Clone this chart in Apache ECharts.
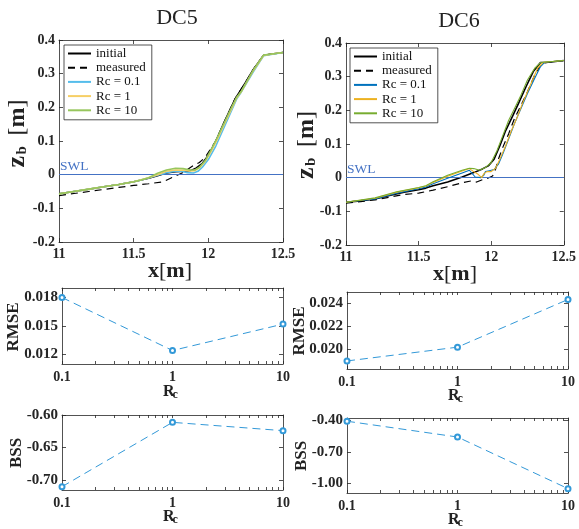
<!DOCTYPE html>
<html><head><meta charset="utf-8">
<script src="https://cdn.jsdelivr.net/npm/echarts@6/dist/echarts.min.js"></script>
<style>html,body{margin:0;padding:0;background:#fff}#c{width:579px;height:529px}</style>
</head><body><div id="c"></div>
<script>
// ---------------- data ----------------
const rcValues = [0.1, 1, 10];
const rmseDC5 = [0.0180, 0.01242, 0.0152];
const rmseDC6 = [0.0190, 0.0202, 0.02435];
const bssDC5 = [-0.7103, -0.6113, -0.6241];
const bssDC6 = [-0.406, -0.558, -1.055];
const rcTicks = [0.1, 1, 10];
const rcMinorTicks = [0.1,0.2,0.3,0.4,0.5,0.6,0.7,0.8,0.9,1,2,3,4,5,6,7,8,9,10];
const rmseDC5Ticks = [0.012, 0.015, 0.018];
const rmseDC6Ticks = [0.020, 0.022, 0.024];
const bssDC5Ticks = [-0.70, -0.65, -0.60];
const bssDC6Ticks = [-1.00, -0.70, -0.40];
const legendNames = ['initial', 'measured', 'Rc = 0.1', 'Rc = 1', 'Rc = 10'];

const dc5Initial = [[11.00,-0.057],[11.10,-0.050],[11.20,-0.043],[11.30,-0.036],[11.40,-0.029],[11.50,-0.021],[11.60,-0.011],[11.66,-0.003],[11.72,0.005],[11.78,0.009],[11.84,0.010],[11.88,0.012],[11.92,0.020],[11.96,0.034],[12.00,0.058],[12.05,0.100],[12.10,0.150],[12.15,0.198],[12.18,0.226],[12.20,0.240],[12.25,0.275],[12.30,0.312],[12.37,0.355],[12.45,0.360],[12.50,0.363]];
const dc5Measured = [[11.00,-0.062],[11.10,-0.056],[11.20,-0.050],[11.30,-0.044],[11.40,-0.038],[11.50,-0.032],[11.60,-0.027],[11.70,-0.021],[11.74,-0.012],[11.78,-0.004],[11.82,0.004],[11.86,0.015],[11.90,0.027],[11.94,0.036],[11.98,0.052],[12.02,0.080],[12.05,0.100],[12.10,0.150],[12.15,0.198],[12.18,0.226],[12.20,0.240],[12.25,0.275],[12.30,0.312],[12.37,0.355],[12.45,0.360],[12.50,0.363]];
const dc5Rc01 = [[11.00,-0.057],[11.10,-0.050],[11.20,-0.043],[11.30,-0.036],[11.40,-0.029],[11.50,-0.021],[11.60,-0.010],[11.66,-0.002],[11.72,0.006],[11.78,0.010],[11.82,0.010],[11.86,0.006],[11.90,0.005],[11.93,0.010],[11.96,0.022],[12.00,0.045],[12.05,0.085],[12.10,0.135],[12.15,0.185],[12.19,0.225],[12.22,0.245],[12.30,0.305],[12.37,0.353],[12.45,0.359],[12.50,0.363]];
const dc5Rc1 = [[11.00,-0.057],[11.10,-0.050],[11.20,-0.043],[11.30,-0.036],[11.40,-0.029],[11.50,-0.021],[11.60,-0.009],[11.66,0.000],[11.72,0.010],[11.78,0.014],[11.84,0.013],[11.88,0.011],[11.91,0.012],[11.94,0.020],[11.98,0.040],[12.02,0.070],[12.06,0.105],[12.10,0.143],[12.15,0.190],[12.19,0.228],[12.22,0.246],[12.30,0.308],[12.37,0.354],[12.45,0.360],[12.50,0.363]];
const dc5Rc10 = [[11.00,-0.057],[11.10,-0.050],[11.20,-0.043],[11.30,-0.036],[11.40,-0.029],[11.50,-0.021],[11.55,-0.016],[11.60,-0.009],[11.66,0.004],[11.72,0.014],[11.78,0.019],[11.83,0.018],[11.88,0.014],[11.91,0.014],[11.94,0.022],[11.98,0.042],[12.02,0.075],[12.06,0.110],[12.10,0.148],[12.15,0.195],[12.19,0.230],[12.22,0.247],[12.30,0.310],[12.37,0.355],[12.45,0.360],[12.50,0.363]];

const dc6Initial = [[11.00,-0.073],[11.10,-0.069],[11.20,-0.063],[11.30,-0.053],[11.40,-0.043],[11.50,-0.036],[11.55,-0.031],[11.60,-0.024],[11.70,-0.013],[11.80,0.002],[11.88,0.015],[11.94,0.026],[11.98,0.035],[12.02,0.055],[12.06,0.095],[12.10,0.140],[12.15,0.185],[12.19,0.222],[12.24,0.270],[12.29,0.315],[12.34,0.342],[12.40,0.343],[12.50,0.348]];
const dc6Measured = [[11.00,-0.076],[11.10,-0.071],[11.20,-0.066],[11.30,-0.058],[11.40,-0.050],[11.50,-0.046],[11.60,-0.037],[11.70,-0.027],[11.80,-0.015],[11.86,-0.010],[11.90,-0.013],[11.94,-0.006],[11.98,-0.001],[12.01,0.005],[12.03,0.025],[12.05,0.055],[12.08,0.090],[12.12,0.130],[12.16,0.175],[12.20,0.210],[12.25,0.255],[12.30,0.305],[12.35,0.340],[12.40,0.343],[12.50,0.348]];
const dc6Rc01 = [[11.00,-0.073],[11.20,-0.063],[11.35,-0.046],[11.50,-0.033],[11.55,-0.028],[11.60,-0.018],[11.70,-0.002],[11.80,0.014],[11.85,0.022],[11.87,0.012],[11.89,0.002],[11.93,0.000],[11.95,0.008],[11.96,0.018],[11.98,0.020],[12.02,0.024],[12.05,0.040],[12.08,0.070],[12.12,0.115],[12.16,0.160],[12.20,0.200],[12.25,0.250],[12.30,0.295],[12.34,0.330],[12.37,0.343],[12.50,0.348]];
const dc6Rc1 = [[11.00,-0.073],[11.20,-0.061],[11.35,-0.043],[11.50,-0.030],[11.55,-0.025],[11.60,-0.014],[11.70,0.004],[11.80,0.020],[11.85,0.027],[11.88,0.018],[11.91,0.010],[11.935,0.000],[11.95,0.012],[11.97,0.018],[12.00,0.018],[12.03,0.028],[12.06,0.055],[12.10,0.095],[12.14,0.140],[12.18,0.180],[12.22,0.225],[12.27,0.275],[12.32,0.325],[12.36,0.343],[12.50,0.348]];
const dc6Rc10 = [[11.00,-0.073],[11.20,-0.060],[11.35,-0.042],[11.50,-0.029],[11.55,-0.024],[11.60,-0.012],[11.70,0.007],[11.80,0.022],[11.85,0.028],[11.88,0.027],[11.92,0.022],[11.96,0.030],[12.00,0.045],[12.04,0.080],[12.08,0.125],[12.12,0.170],[12.16,0.205],[12.20,0.240],[12.25,0.290],[12.30,0.325],[12.34,0.342],[12.50,0.348]];

// ---------------- styles ----------------
const SERIF = '"Liberation Serif", "DejaVu Serif", serif';
const AXC = '#262626';
const SWL_C = '#4472C4';
const lowC = '#3399D8';
const dc5Colors = ['#000000', '#000000', '#55BDEB', '#F6CF65', '#97C65D'];
const dc6Colors = ['#000000', '#000000', '#0072BD', '#EDB120', '#77AC30'];

const grids = [
  {left: 59, top: 40, width: 224, height: 202},
  {left: 346, top: 43, width: 222, height: 202},
  {left: 62, top: 288, width: 221, height: 76},
  {left: 347, top: 292, width: 221, height: 77},
  {left: 62, top: 415, width: 221, height: 75},
  {left: 347, top: 418, width: 221, height: 75}
];

const lineSt = {color: AXC, width: 0.8};
const labelBase = {color: AXC, fontFamily: SERIF, fontWeight: 'bold', fontSize: 14};

const xAxes = [], yAxes = [];
function addX(g, base, label) {
  xAxes.push(Object.assign({gridIndex: g, position: 'bottom',
    axisLine: {show: true, onZero: false, lineStyle: lineSt},
    splitLine: {show: false}}, base, {axisLabel: Object.assign({}, labelBase, label)}));
  xAxes.push(Object.assign({gridIndex: g, position: 'top',
    axisLine: {show: true, onZero: false, lineStyle: lineSt},
    splitLine: {show: false}}, base, {axisLabel: {show: false}}));
}
function addY(g, base, label) {
  yAxes.push(Object.assign({gridIndex: g, position: 'left',
    axisLine: {show: true, onZero: false, lineStyle: lineSt},
    splitLine: {show: false}}, base, {axisLabel: Object.assign({}, labelBase, label)}));
  yAxes.push(Object.assign({gridIndex: g, position: 'right',
    axisLine: {show: true, onZero: false, lineStyle: lineSt},
    splitLine: {show: false}}, base, {axisLabel: {show: false}}));
}

// top plots
for (let g = 0; g < 2; g++) {
  addX(g, {type: 'value', min: 11, max: 12.5, interval: 0.5,
    axisTick: {show: true, inside: true, length: 4, lineStyle: lineSt}},
    {margin: 5, formatter: v => String(Math.round(v * 10) / 10)});
  addY(g, {type: 'value', min: -0.2, max: 0.4, interval: 0.1,
    axisTick: {show: true, inside: true, length: 4, lineStyle: lineSt}},
    {margin: 4, formatter: v => { const r = Math.round(v * 10) / 10; return r === 0 ? '0' : r.toFixed(1); }});
}
// lower plots
const lowY = [
  {min: 0.011, max: 0.019, ticks: rmseDC5Ticks, dec: 3},
  {min: 0.0183, max: 0.0250, ticks: rmseDC6Ticks, dec: 3},
  {min: -0.7154, max: -0.60, ticks: bssDC5Ticks, dec: 2},
  {min: -1.097, max: -0.375, ticks: bssDC6Ticks, dec: 2}
];
for (let k = 0; k < 4; k++) {
  const g = k + 2;
  addX(g, {type: 'log', logBase: 10, min: 0.1, max: 10,
    axisTick: {show: true, inside: true, length: 3, lineStyle: lineSt, customValues: rcMinorTicks}},
    {margin: 6, customValues: rcTicks, formatter: v => v < 0.5 ? '0.1' : String(Math.round(v))});
  const ly = lowY[k];
  addY(g, {type: 'value', min: ly.min, max: ly.max,
    axisTick: {show: true, inside: true, length: 4, lineStyle: lineSt, customValues: ly.ticks}},
    {margin: 4, fontSize: 15, customValues: ly.ticks, formatter: v => v.toFixed(ly.dec)});
}

// series
const series = [];
function profileSeries(prefix, g, datasets, colors, widths) {
  datasets.forEach((d, i) => {
    const s = {
      type: 'line', name: prefix + ' ' + legendNames[i], data: d,
      xAxisIndex: 2 * g, yAxisIndex: 2 * g, symbol: 'none', animation: false,
      lineStyle: {color: colors[i], width: widths[i], type: i === 1 ? [7, 5] : 'solid'},
      itemStyle: {color: colors[i]}, z: 3 + i
    };
    if (i === 0) {
      s.markLine = {
        silent: true, symbol: ['none', 'none'], animation: false,
        data: [{yAxis: 0}],
        lineStyle: {color: SWL_C, width: 1.2, type: 'solid'},
        label: {show: true, position: 'insideStartTop', formatter: 'SWL', color: SWL_C,
          fontFamily: SERIF, fontSize: 13.5, distance: [1, 1]}
      };
    }
    series.push(s);
  });
}
profileSeries('DC5', 0, [dc5Initial, dc5Measured, dc5Rc01, dc5Rc1, dc5Rc10], dc5Colors, [1.5, 1.2, 1.6, 1.6, 1.6]);
profileSeries('DC6', 1, [dc6Initial, dc6Measured, dc6Rc01, dc6Rc1, dc6Rc10], dc6Colors, [1.6, 1.2, 1.1, 1.1, 1.1]);

const lowData = [rmseDC5, rmseDC6, bssDC5, bssDC6];
lowData.forEach((vals, k) => {
  series.push({
    type: 'line', name: 'low' + k, xAxisIndex: 2 * (k + 2), yAxisIndex: 2 * (k + 2),
    data: rcValues.map((r, i) => [r, vals[i]]), animation: false,
    symbol: 'emptyCircle', symbolSize: 5, clip: false,
    lineStyle: {color: lowC, width: 1, type: [8, 5]},
    itemStyle: {color: lowC, borderColor: lowC, borderWidth: 0.9}
  });
});

function legendFor(prefix, left, top) {
  return {
    data: legendNames.map(n => prefix + ' ' + n),
    formatter: n => n.slice(4), orient: 'vertical', left: left, top: top,
    itemWidth: 23, itemHeight: 12, itemGap: 1.2, padding: [2, 6, 3, 3],
    backgroundColor: '#fff', borderColor: AXC, borderWidth: 0.8, borderRadius: 0,
    selectedMode: false,
    itemStyle: {opacity: 0},
    textStyle: {fontFamily: SERIF, fontSize: 13, lineHeight: 13, color: '#111'}
  };
}

// text helpers
function txt(x, y, text, font, extra) {
  return Object.assign({type: 'text', x: x, y: y, silent: true,
    style: {text: text, font: font, fill: '#222', align: 'center', verticalAlign: 'middle',
      textAlign: 'center', textVerticalAlign: 'middle'}}, extra || {});
}
function leftTxt(x, y, text, font) {
  return {type: 'text', x: x, y: y, silent: true,
    style: {text: text, font: font, fill: '#222', align: 'left', verticalAlign: 'middle',
      textAlign: 'left', textVerticalAlign: 'middle'}};
}
function zbLabel(cx, cy) {
  return {type: 'group', x: cx, y: cy, rotation: Math.PI / 2, silent: true, children: [
    leftTxt(-35, 0.5, 'z', 'bold 26px ' + SERIF),
    leftTxt(-22, 5.5, 'b', 'bold 15px ' + SERIF),
    {type: 'text', x: -3, y: 1, silent: true, style: {text: '{r|[}{b|m}{r|]}', fill: '#222',
      align: 'left', verticalAlign: 'middle', textAlign: 'left', textVerticalAlign: 'middle',
      rich: {r: {font: '24px ' + SERIF, fill: '#222'}, b: {font: 'bold 24px ' + SERIF, fill: '#222'}}}}
  ]};
}
function xmLabel(cx, cy) {
  return {type: 'text', x: cx, y: cy, silent: true, style: {text: '{b|x}{r|[}{b|m}{r|]}', fill: '#222',
    align: 'center', verticalAlign: 'middle', textAlign: 'center', textVerticalAlign: 'middle',
    rich: {r: {font: '22px ' + SERIF, fill: '#222'}, b: {font: 'bold 22px ' + SERIF, fill: '#222'}}}};
}
function rcLabel(xl, base) {
  return [leftTxt(xl, base - 4.8, 'R', 'bold 16px ' + SERIF), leftTxt(xl + 9.5, base + 1.8 - 3.6, 'c', 'bold 12px ' + SERIF)];
}
const rot = {rotation: Math.PI / 2};

const graphics = [
  txt(177, 18, 'DC5', '22px ' + SERIF),
  txt(459, 21, 'DC6', '22px ' + SERIF),
  zbLabel(17, 132.5),
  zbLabel(306, 144),
  xmLabel(170, 271.5),
  xmLabel(455, 274.5),
  txt(14, 327, 'RMSE', 'bold 17px ' + SERIF, rot),
  txt(300, 331, 'RMSE', 'bold 17px ' + SERIF, rot),
  txt(16.5, 453, 'BSS', 'bold 17px ' + SERIF, rot),
  txt(301.5, 456, 'BSS', 'bold 17px ' + SERIF, rot)
].concat(rcLabel(163, 396.5), rcLabel(448, 401), rcLabel(163, 521.7), rcLabel(448, 525));

const chart = echarts.init(document.getElementById('c'), null, {renderer: 'canvas'});
chart.setOption({
  animation: false,
  backgroundColor: '#fff',
  grid: grids.map(g => Object.assign({containLabel: false, show: false}, g)),
  xAxis: xAxes,
  yAxis: yAxes,
  legend: [legendFor('DC5', 64, 45), legendFor('DC6', 350, 48)],
  series: series,
  graphic: {elements: graphics}
});
</script></body></html>
